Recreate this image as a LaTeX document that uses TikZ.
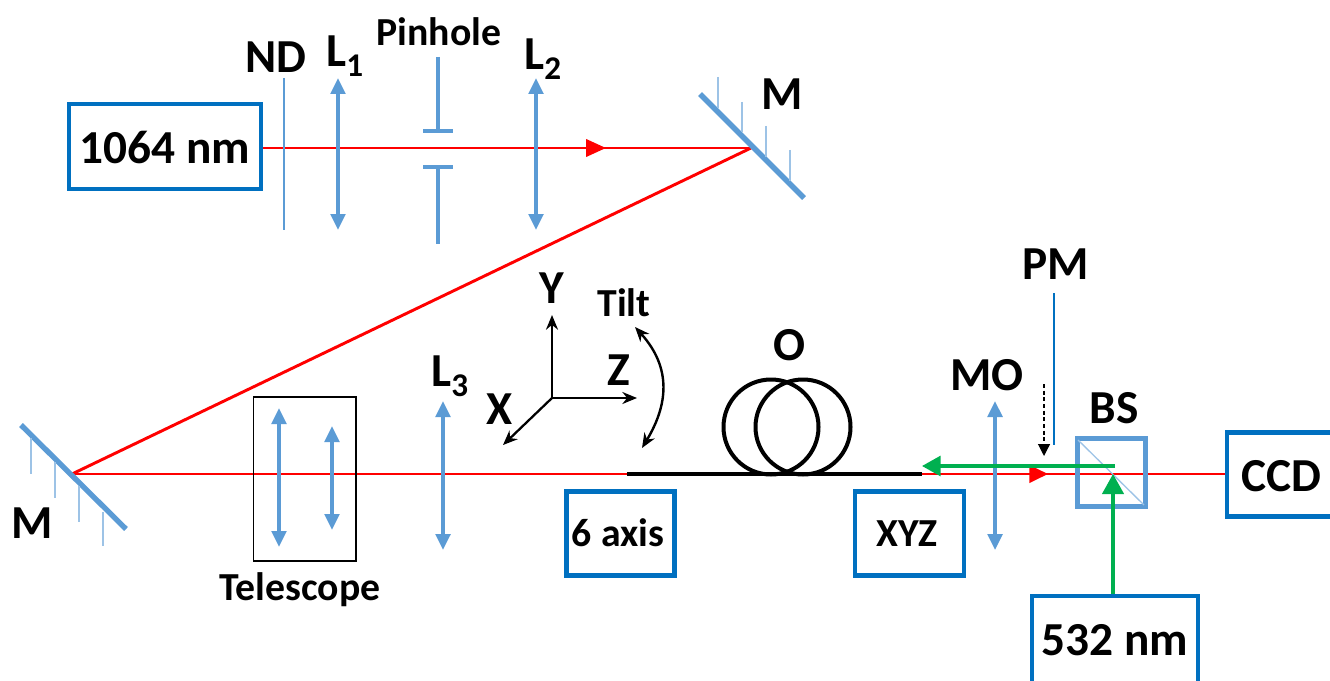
\documentclass[tikz,border=0pt]{standalone}
\usepackage{fontspec}
\setmainfont{Carlito}
\usetikzlibrary{arrows.meta}
\definecolor{boxblue}{HTML}{0070C0}
\definecolor{optblue}{HTML}{5B9BD5}
\definecolor{hatchblue}{HTML}{9DC3E6}
\definecolor{beamred}{HTML}{FF0000}
\definecolor{beamgreen}{HTML}{00B050}
\newcommand{\lblfont}[1]{\fontsize{#1}{#1}\selectfont\bfseries}
\tikzset{
  instr/.style={draw=boxblue,line width=3.2pt,inner sep=0pt,fill=white,text=black},
  big/.style={font=\lblfont{35.5},inner sep=0pt,text=black},
  mid/.style={font=\lblfont{29.8},inner sep=0pt,text=black},
  lens/.style={draw=optblue,line width=2.6pt,{Triangle[length=12pt,width=11pt]}-{Triangle[length=12pt,width=11pt]}},
  thinopt/.style={draw=optblue,line width=1.5pt},
  pin/.style={draw=optblue,line width=2.6pt},
  mirror/.style={draw=optblue,line width=4pt},
  hatch/.style={draw=hatchblue,line width=1.1pt},
  redbeam/.style={draw=beamred,line width=2.2pt},
  greenbeam/.style={draw=beamgreen,line width=2.3pt},
  axis/.style={draw=black,line width=1.7pt,-{Stealth[length=11pt,width=9pt]}},
  fiber/.style={draw=black,line width=3pt}
}
\begin{document}
\begin{tikzpicture}[x=0.75pt,y=-0.75pt]
\path[use as bounding box] (0,0) rectangle (1330,681);
\clip (0,0) rectangle (1330,681);
% named anchors
\coordinate (mA) at (751,148);
\coordinate (mB) at (72,474);
\coordinate (ftL) at (627,474);
\coordinate (ftR) at (922,474);
\coordinate (bsC) at (1113,474);
\coordinate (grE) at (1115,466);
\coordinate (arR) at (606,148);
\coordinate (arG) at (1048,474);
\coordinate (org) at (552,398);

% instrument boxes
\node[instr,minimum width=144pt,minimum height=64pt] (laser) at (165,146.5) {};
\node[instr,minimum width=81pt,minimum height=63pt] (ccd) at (1281,474.5) {};
\node[instr,minimum width=124.5pt,minimum height=72pt] (grn) at (1115,644) {};

% beams
\draw[redbeam] (laser.east |- mA) -- (mA);
\draw[redbeam] (mA) -- (mB);
\draw[redbeam] (mB) -- (ftL);
\draw[redbeam] (ftR) -- (ccd.west |- ftR);
\draw[redbeam,-{Triangle[length=15pt,width=13pt]}] (laser.east |- mA) -- (arR);
\draw[redbeam,-{Triangle[length=14pt,width=13pt]}] (ftR) -- (arG);

% text in boxes
\node[big] (t1064) at (165,148) {1064 nm};
\node[big] (tccd) at (1281,476) {CCD};
\node[big] (t532) at (1115,640) {532 nm};

% mirrors
\coordinate (a1) at (700,94); \coordinate (a2) at (804,198);
\draw[mirror] (a1) -- (a2);
\foreach \x/\ya/\yb in {718/77/108,742/102/132,766/126/157,790/150/181}
  \draw[hatch] (\x,\ya) -- (\x,\yb);
\coordinate (b1) at (21,425); \coordinate (b2) at (126,529);
\draw[mirror] (b1) -- (b2);
\foreach \x/\ya/\yb in {31/438/474,55/462/498,79/486/522,103/512/546}
  \draw[hatch] (\x,\ya) -- (\x,\yb);

% upper optics
\coordinate (ndT) at (284,78); \coordinate (ndB) at (284,230);
\draw[thinopt] (ndT) -- (ndB);
\coordinate (l1T) at (338,78); \coordinate (l1B) at (338,230);
\draw[lens] (l1T) -- (l1B);
\coordinate (l2T) at (536,78); \coordinate (l2B) at (536,230);
\draw[lens] (l2T) -- (l2B);
\coordinate (phT) at (438,57); \coordinate (phU) at (438,131);
\coordinate (phL) at (438,167); \coordinate (phB) at (438,244);
\draw[pin] (phT) -- (phU);
\draw[pin] (phL) -- (phB);
\draw[pin] (423,131) -- (453,131);
\draw[pin] (423,167) -- (453,167);

% telescope
\node[draw=black,line width=1pt,minimum width=77pt,minimum height=123pt,inner sep=0pt] (tele) at (304.5,479) {};
\coordinate (t1T) at (279,408); \coordinate (t1B) at (279,547);
\draw[lens] (t1T) -- (t1B);
\coordinate (t2T) at (332,426); \coordinate (t2B) at (332,530);
\draw[lens] (t2T) -- (t2B);
\coordinate (l3T) at (443,401); \coordinate (l3B) at (443,550);
\draw[lens] (l3T) -- (l3B);
\coordinate (moT) at (995,401); \coordinate (moB) at (995,550);
\draw[lens] (moT) -- (moB);

% stages
\node[instr,minimum width=81pt,minimum height=63pt,fill=none] (six) at (620.5,533.5) {};
\node[instr,minimum width=82pt,minimum height=63pt,fill=none] (xyz) at (909.5,533.5) {};
\node[mid] (t6) at (618,533) {6 axis};
\node[mid] (txyz) at (907,534) {XYZ};

% fibre
\draw[fiber] (ftL) -- (ftR);
\draw[fiber] (771,427) circle[radius=47.5];
\draw[fiber] (803,427) circle[radius=47.5];

% axes
\coordinate (axY) at (552,315); \coordinate (axZ) at (637,398); \coordinate (axX) at (503,445);
\draw[axis] (org) -- (axY);
\draw[axis] (org) -- (axZ);
\draw[axis] (org) -- (axX);
\coordinate (tlA) at (635,327); \coordinate (tlB) at (642,448);
\draw[draw=black,line width=1.8pt,{Stealth[length=11pt,width=9pt]}-{Stealth[length=11pt,width=9pt]}] (tlA) .. controls (672,368) and (668,405) .. (tlB);

% power meter
\coordinate (pmT) at (1054,293); \coordinate (pmB) at (1054,445);
\draw[draw=boxblue,line width=2pt] (pmT) -- (pmB);
\coordinate (dsT) at (1044,384); \coordinate (dsB) at (1044,456);
\draw[draw=black,line width=0.9pt,densely dashed,-{Triangle[length=9pt,width=9pt]}] (dsT) -- (dsB);

% beam splitter
\node[draw=optblue,line width=3.2pt,fill=none,minimum width=51pt,minimum height=51pt,inner sep=0pt] (bs) at (1111.5,472.5) {};
\coordinate (bsA) at (1078,440); \coordinate (bsB) at (1144,505);
\draw[hatch,line width=1pt] (bsA) -- (bsB);

% green beams
\draw[greenbeam,-{Triangle[length=14pt,width=15pt]}] (grE) -- (ftR |- grE);
\draw[greenbeam,-{Triangle[length=15pt,width=16pt]}] (grn.north -| bsC) -- (bsC);

% labels
\node[big] (lND) at (276,57) {ND};
\node[big] (lL1) at (345,56) {L\textsubscript{1}};
\node[mid] (lPH) at (439,32) {Pinhole};
\node[big] (lL2) at (543,59) {L\textsubscript{2}};
\node[big] (lMa) at (782,94) {M};
\node[big] (lMb) at (32,523) {M};
\node[big] (lL3) at (450,376) {L\textsubscript{3}};
\node[big] (lY) at (552,288) {Y};
\node[big] (lZ) at (619,370) {Z};
\node[big] (lX) at (500,409) {X};
\node[mid] (lT) at (624,303) {Tilt};
\node[big] (lO) at (789,345) {O};
\node[big] (lMO) at (987,375) {MO};
\node[big] (lPM) at (1056,264) {PM};
\node[big] (lBS) at (1114,408) {BS};
\node[mid] (lTe) at (300,590) {Telescope};
\end{tikzpicture}
\end{document}
